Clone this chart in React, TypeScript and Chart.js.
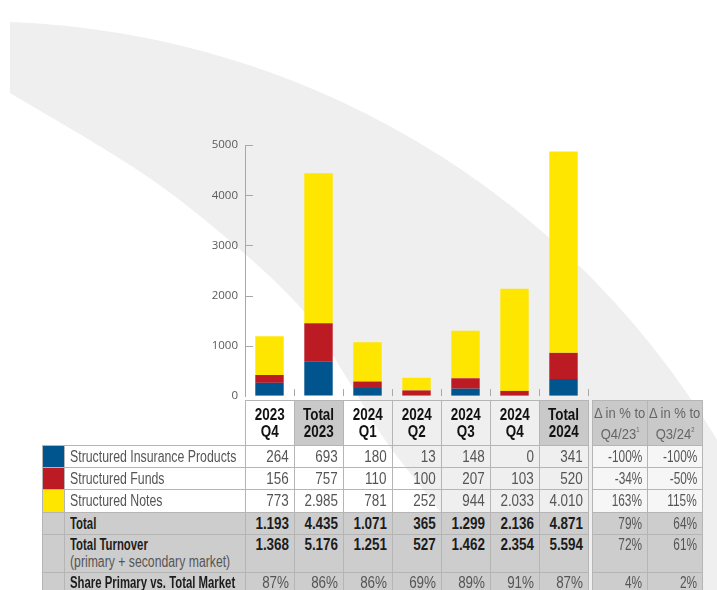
import React, { useEffect, useRef } from "react";
import { Chart, registerables } from "chart.js";

Chart.register(...registerables);

// ---- data ----
const categories = ["2023 Q4", "Total 2023", "2024 Q1", "2024 Q2", "2024 Q3", "2024 Q4", "Total 2024"];
const headerTop = ["2023", "Total", "2024", "2024", "2024", "2024", "Total"];
const headerBottom = ["Q4", "2023", "Q1", "Q2", "Q3", "Q4", "2024"];
const totalColumns = [false, true, false, false, false, false, true];
const insurance = [264, 693, 180, 13, 148, 0, 341];
const funds = [156, 757, 110, 100, 207, 103, 520];
const notes = [773, 2985, 781, 252, 944, 2033, 4010];
const totals = [1193, 4435, 1071, 365, 1299, 2136, 4871];
const turnover = [1368, 5176, 1251, 527, 1462, 2354, 5594];
const sharePrimary = ["87%", "86%", "86%", "69%", "89%", "91%", "87%"];
const deltaQ4 = ["-100%", "-34%", "163%", "79%", "72%", "4%"];
const deltaQ3 = ["-100%", "-50%", "115%", "64%", "61%", "2%"];
const yTicks = [0, 1000, 2000, 3000, 4000, 5000];

const BLUE = "#00558f";
const RED = "#bd1b24";
const YELLOW = "#ffe600";
const GREY = "#cdcdcd";
const LINE = "#b5b5b5";
const FONT = "'Liberation Sans', Arial, sans-serif";

const fmt = (n: number) =>
  n >= 1000 ? `${Math.floor(n / 1000)}.${String(n % 1000).padStart(3, "0")}` : String(n);

function smooth(pts: number[][], move: boolean) {
  let d = `${move ? "M" : "L"}${pts[0][0]},${pts[0][1]}`;
  for (let i = 0; i < pts.length - 1; i++) {
    const p0 = pts[i - 1] || pts[i];
    const p1 = pts[i];
    const p2 = pts[i + 1];
    const p3 = pts[i + 2] || p2;
    const c1 = [p1[0] + (p2[0] - p0[0]) / 6, p1[1] + (p2[1] - p0[1]) / 6];
    const c2 = [p2[0] - (p3[0] - p1[0]) / 6, p2[1] - (p3[1] - p1[1]) / 6];
    d += ` C${c1[0]},${c1[1]} ${c2[0]},${c2[1]} ${p2[0]},${p2[1]}`;
  }
  return d;
}

// decorative background band (outer edge is a large circular arc)
const innerEdge = [[10, 93], [133, 167], [217, 230], [300, 307], [345, 375], [385, 440], [440, 512], [490, 590], [500, 612]];
const bandPath =
  "M10,22 A862,862 0 0 1 745,490 L745,612 " +
  smooth([...innerEdge].reverse(), false) +
  " Z";

const axisPlugin = {
  id: "axisMarks",
  afterDatasetsDraw(chart: any) {
    const { ctx, chartArea, scales } = chart;
    const x = scales.x;
    const y = scales.y;
    ctx.save();
    ctx.strokeStyle = "#a8a8a8";
    ctx.lineWidth = 1;
    yTicks.forEach((v) => {
      if (v === 0) return;
      const py = Math.round(y.getPixelForValue(v)) + 0.5;
      ctx.beginPath();
      ctx.moveTo(chartArea.left, py);
      ctx.lineTo(chartArea.left + 8, py);
      ctx.stroke();
    });
    const n = categories.length;
    for (let i = 0; i < n; i++) {
      const bx =
        i < n - 1
          ? (x.getPixelForValue(i) + x.getPixelForValue(i + 1)) / 2
          : chartArea.right;
      const px = Math.round(bx) + 0.5;
      ctx.beginPath();
      ctx.moveTo(px, chartArea.bottom - 7);
      ctx.lineTo(px, chartArea.bottom);
      ctx.stroke();
    }
    ctx.restore();
  },
};

function BarChart() {
  const ref = useRef<HTMLCanvasElement | null>(null);
  useEffect(() => {
    if (!ref.current) return;
    const chart = new Chart(ref.current, {
      type: "bar",
      data: {
        labels: categories,
        datasets: [
          { label: "Structured Insurance Products", data: insurance, backgroundColor: BLUE },
          { label: "Structured Funds", data: funds, backgroundColor: RED },
          { label: "Structured Notes", data: notes, backgroundColor: YELLOW },
        ],
      },
      options: {
        animation: false,
        responsive: true,
        maintainAspectRatio: false,
        layout: { padding: { top: 15, right: 12, bottom: 10, left: 0 } },
        plugins: { legend: { display: false }, tooltip: { enabled: false } },
        datasets: { bar: { categoryPercentage: 1, barPercentage: 0.58 } },
        scales: {
          x: { stacked: true, display: false },
          y: {
            stacked: true,
            min: 0,
            max: 5000,
            ticks: {
              stepSize: 1000,
              color: "#5a5a5a",
              padding: 7,
              font: { family: "'Open Sans', sans-serif", size: 11.5 },
              callback: (v: any) => String(v),
            },
            grid: { drawOnChartArea: false, drawTicks: false },
            border: { display: true, color: "#a8a8a8", width: 1 },
            afterFit: (s: any) => {
              s.width = 65;
            },
          },
        },
      } as any,
      plugins: [axisPlugin],
    });
    return () => chart.destroy();
  }, []);
  return (
    <div style={{ position: "absolute", left: 180, top: 130, width: 420, height: 280 }}>
      <canvas ref={ref} />
    </div>
  );
}

function T({ s, k = 0.77, align = "right", size = 16, bold = false, color, lh = 19 }: any) {
  const origin = align === "left" ? "left center" : align === "right" ? "right center" : "center center";
  return (
    <span
      style={{
        display: "inline-block",
        transform: `scaleX(${k})`,
        transformOrigin: origin,
        fontSize: size,
        lineHeight: `${lh}px`,
        fontWeight: bold ? 700 : 400,
        color: color || (bold ? "#1c1c1c" : "#555"),
        whiteSpace: "nowrap",
      }}
    >
      {s}
    </span>
  );
}

type CellProps = {
  x0: number;
  x1: number;
  y0: number;
  y1: number;
  bg?: string;
  align?: "left" | "right" | "center";
  children?: React.ReactNode;
  top?: boolean;
};

function Cell({ x0, x1, y0, y1, bg, align = "right", children, top }: CellProps) {
  return (
    <div
      style={{
        position: "absolute",
        left: x0,
        top: y0,
        width: x1 - x0 + 1,
        height: y1 - y0 + 1,
        boxSizing: "border-box",
        border: `1px solid ${LINE}`,
        background: bg || "transparent",
        display: "flex",
        flexDirection: "column",
        justifyContent: top ? "flex-start" : "center",
        alignItems: align === "left" ? "flex-start" : align === "right" ? "flex-end" : "center",
        paddingLeft: align === "left" ? 5 : 0,
        paddingRight: align === "right" ? 5 : 0,
        paddingTop: top ? 1 : 0,
        fontFamily: FONT,
        overflow: "visible",
      }}
    >
      {children}
    </div>
  );
}

const colEdges = [245, 294, 343, 392, 441, 490, 539, 588];
const deltaEdges = [592, 647, 702];
const rowEdges = [400, 445, 467, 489, 512, 534, 572, 593];

function DataTable() {
  const cells: React.ReactNode[] = [];
  categories.forEach((_, i) => {
    cells.push(
      <Cell
        key={`h${i}`}
        x0={colEdges[i]}
        x1={colEdges[i + 1]}
        y0={rowEdges[0]}
        y1={rowEdges[1]}
        bg={totalColumns[i] ? "#c9c9c9" : undefined}
        align="center"
      >
        <T s={headerTop[i]} k={0.84} align="center" size={16} bold color="#111" lh={17.5} />
        <T s={headerBottom[i]} k={0.84} align="center" size={16} bold color="#111" lh={17.5} />
      </Cell>
    );
  });
  const deltaHeads = [
    ["Q4/23", "1"],
    ["Q3/24", "2"],
  ];
  deltaHeads.forEach((h, j) => {
    cells.push(
      <Cell
        key={`dh${j}`}
        x0={deltaEdges[j]}
        x1={deltaEdges[j + 1]}
        y0={rowEdges[0]}
        y1={rowEdges[1]}
        bg="#c9c9c9"
        align="center"
      >
        <T s="Δ in % to" k={0.84} align="center" size={15.5} color="#666" lh={17.5} />
        <T
          s={
            <>
              {h[0]}
              <sup style={{ fontSize: 7, verticalAlign: 7 }}>{h[1]}</sup>
            </>
          }
          k={0.84}
          align="center"
          size={15.5}
          color="#666"
          lh={17.5}
        />
      </Cell>
    );
  });

  const rows: any[] = [
    { label: "Structured Insurance Products", swatch: BLUE, values: insurance.map(fmt) },
    { label: "Structured Funds", swatch: RED, values: funds.map(fmt) },
    { label: "Structured Notes", swatch: YELLOW, values: notes.map(fmt) },
    { label: "Total", swatch: GREY, values: totals.map(fmt), bg: GREY, bold: true },
    { label: "Total Turnover", swatch: GREY, values: turnover.map(fmt), bg: GREY, bold: true, sub: "(primary + secondary market)" },
    { label: "Share Primary vs. Total Market", swatch: GREY, values: sharePrimary, bg: GREY, boldLabel: true },
  ];

  rows.forEach((r, ri) => {
    const y0 = rowEdges[ri + 1];
    const y1 = rowEdges[ri + 2];
    const topAlign = !!r.sub;
    const boldLabel = r.bold || r.boldLabel;
    cells.push(<Cell key={`s${ri}`} x0={42} x1={64} y0={y0} y1={y1} bg={r.swatch} />);
    cells.push(
      <Cell key={`l${ri}`} x0={64} x1={245} y0={y0} y1={y1} bg={r.bg} align="left" top={topAlign}>
        <T s={r.label} align="left" bold={boldLabel} k={boldLabel ? 0.71 : 0.77} lh={topAlign ? 18 : 20} />
        {r.sub ? <T s={r.sub} align="left" lh={16} k={0.765} /> : null}
      </Cell>
    );
    r.values.forEach((v: string, ci: number) => {
      cells.push(
        <Cell key={`v${ri}-${ci}`} x0={colEdges[ci]} x1={colEdges[ci + 1]} y0={y0} y1={y1} bg={r.bg} top={topAlign}>
          <T s={v} k={0.84} bold={r.bold} lh={topAlign ? 18 : 20} />
        </Cell>
      );
    });
    [deltaQ4, deltaQ3].forEach((arr, j) => {
      cells.push(
        <Cell
          key={`d${ri}-${j}`}
          x0={deltaEdges[j]}
          x1={deltaEdges[j + 1]}
          y0={y0}
          y1={y1}
          bg={r.bg || "#f6f6f6"}
          top={topAlign}
        >
          <T s={arr[ri]} k={0.74} lh={topAlign ? 18 : 20} />
        </Cell>
      );
    });
  });
  return <>{cells}</>;
}

export default function App() {
  return (
    <div
      style={{
        position: "absolute",
        left: 0,
        top: 0,
        width: 717,
        height: 590,
        overflow: "hidden",
        background: "#fff",
      }}
    >
      <svg width={717} height={590} style={{ position: "absolute", left: 0, top: 0 }}>
        <path d={bandPath} fill="#efefef" />
      </svg>
      <BarChart />
      <DataTable />
    </div>
  );
}
